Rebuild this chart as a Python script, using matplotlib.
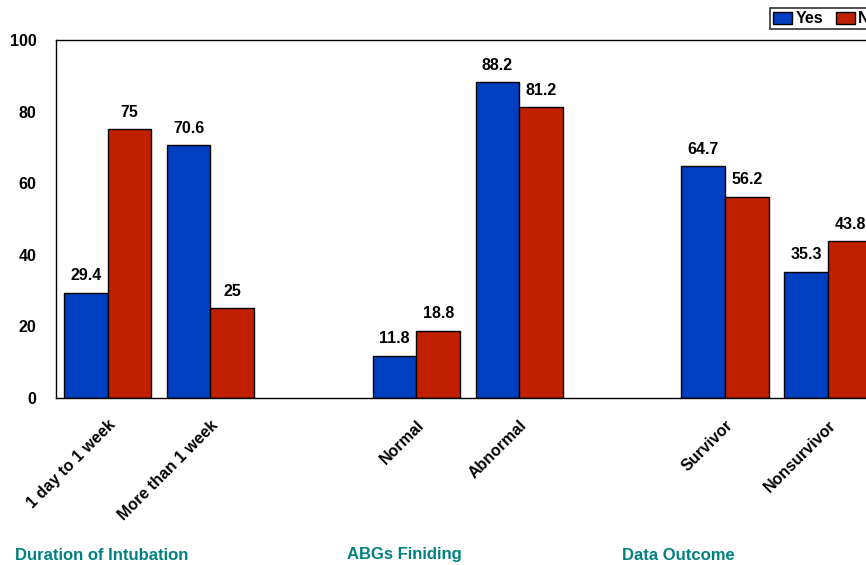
import matplotlib.pyplot as plt
import numpy as np

plt.rcParams['font.family'] = ['Liberation Sans', 'DejaVu Sans']

categories = ["1 day to 1 week", "More than 1 week", "Normal", "Abnormal", "Survivor", "Nonsurvivor"]
yes_vals = [29.4, 70.6, 11.8, 88.2, 64.7, 35.3]
no_vals = [75, 25, 18.8, 81.2, 56.2, 43.8]
groups = ["Duration of Intubation", "ABGs Finiding", "Data Outcome"]

# slots with an empty slot between groups
pos = np.array([0, 1, 3, 4, 6, 7])
w = 0.425

fig = plt.figure(figsize=(8.66, 5.65), dpi=100)
ax = fig.add_axes([0.0647, 0.2956, 0.951, 0.6336])

def fmt(v):
    return f"{v:g}"

b1 = ax.bar(pos - w / 2, yes_vals, w, color="#0040C0", edgecolor="black", linewidth=1.0, label="Yes")
b2 = ax.bar(pos + w / 2, no_vals, w, color="#C02000", edgecolor="black", linewidth=1.0, label="No")

for bars, vals in [(b1, yes_vals), (b2, no_vals)]:
    for b, v in zip(bars, vals):
        ax.text(b.get_x() + b.get_width() / 2, v + 2.6, fmt(v), ha="center", va="bottom",
                fontsize=11.5, fontweight="bold")

ax.set_xlim(-0.5, 7.5)
ax.set_ylim(0, 100)
ax.set_yticks([0, 20, 40, 60, 80, 100])
ax.set_yticklabels(["0", "20", "40", "60", "80", "100"], fontsize=11.5, fontweight="bold")
ax.tick_params(axis="y", length=0, pad=14)
ax.tick_params(axis="x", length=0, pad=14)
ax.set_xticks(pos)
ax.set_xticklabels(categories, rotation=45, ha="right", va="top", rotation_mode="anchor",
                   fontsize=11.5, fontweight="bold")
for s in ax.spines.values():
    s.set_linewidth(1.0)

for x, g in zip([15, 347, 622], groups):
    fig.text(x / 866, 1 - 555 / 565, g, color="#008080", fontsize=12, fontweight="bold",
             va="center", ha="left")

leg = ax.legend(loc="upper left", bbox_to_anchor=(770 / 866, 1 - 8 / 565), bbox_transform=fig.transFigure,
                ncol=2, frameon=True, fancybox=False, edgecolor="black",
                prop={"weight": "bold", "size": 11.5}, handlelength=1.2, handleheight=0.8,
                handletextpad=0.2, columnspacing=0.8, borderpad=0.2, borderaxespad=0)
leg.get_frame().set_linewidth(1.2)

fig.savefig("out.png", dpi=100)
